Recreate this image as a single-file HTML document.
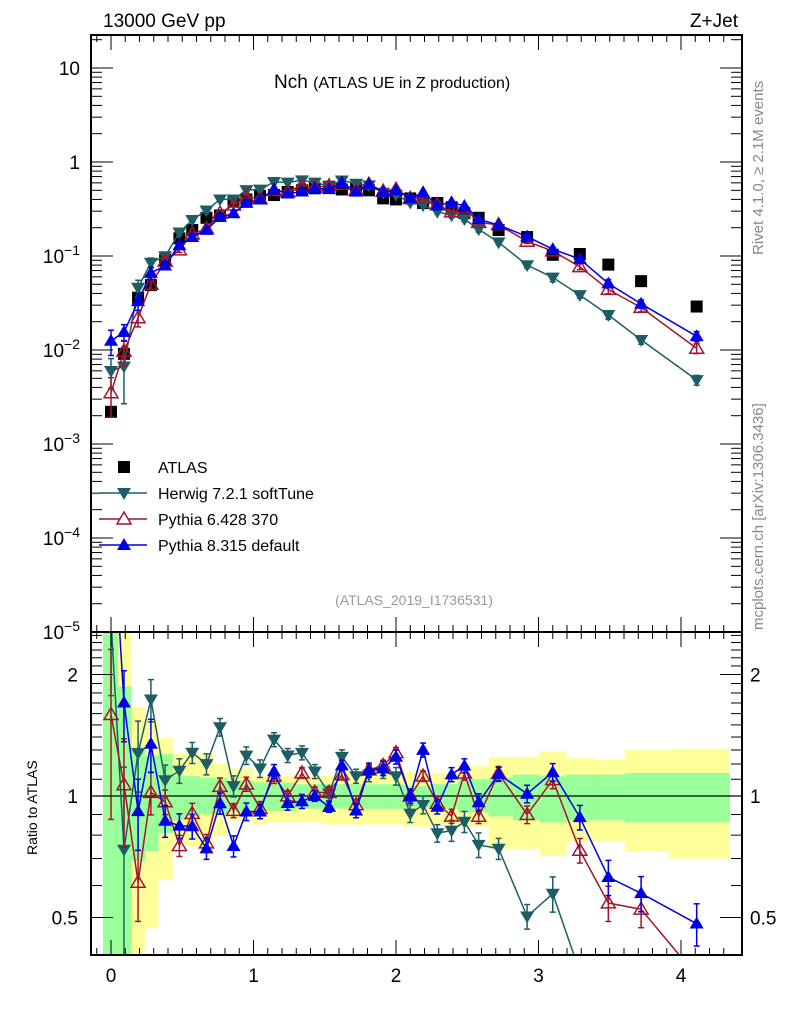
<!DOCTYPE html>
<html><head><meta charset="utf-8"><style>
html,body{margin:0;padding:0;background:#fff;width:786px;height:1024px;overflow:hidden;}
svg{display:block;}
svg text{font-family:"Liberation Sans",sans-serif;}
</style></head><body>
<svg id="chart" width="786" height="1024" viewBox="0 0 786 1024" xmlns="http://www.w3.org/2000/svg" style="position:absolute;left:0;top:0">
<g id="bands"></g>
<g id="grid"></g>
<g id="series"></g>
<g id="axes"></g>
</svg>
<script>
const xs=[0,0.091,0.19,0.28,0.38,0.48,0.57,0.67,0.765,0.86,0.95,1.046,1.144,1.24,1.34,1.43,1.53,1.62,1.72,1.81,1.91,2.00,2.10,2.19,2.29,2.39,2.48,2.58,2.72,2.92,3.10,3.29,3.49,3.72,4.11];
const atlas=[0.0022,0.0091,0.036,0.049,0.091,0.154,0.189,0.255,0.27,0.378,0.40,0.435,0.445,0.48,0.50,0.525,0.546,0.51,0.525,0.50,0.41,0.40,0.41,0.366,0.366,0.33,0.286,0.255,0.189,0.159,0.103,0.105,0.081,0.054,0.029];
const herwig=[0.0060,0.0067,0.046,0.085,0.0996,0.178,0.242,0.306,0.40,0.40,0.504,0.509,0.614,0.605,0.64,0.604,0.554,0.638,0.588,0.565,0.472,0.448,0.371,0.348,0.296,0.271,0.247,0.193,0.140,0.080,0.059,0.0385,0.0236,0.0128,0.0048];
const py6=[0.0035,0.0097,0.022,0.050,0.088,0.116,0.171,0.195,0.285,0.348,0.428,0.405,0.498,0.48,0.57,0.536,0.557,0.576,0.499,0.58,0.488,0.512,0.41,0.41,0.351,0.294,0.326,0.227,0.215,0.143,0.113,0.077,0.044,0.0283,0.0104];
const py8=[0.0125,0.0155,0.033,0.066,0.079,0.130,0.159,0.189,0.259,0.284,0.366,0.398,0.512,0.461,0.485,0.525,0.513,0.607,0.483,0.58,0.48,0.50,0.41,0.476,0.344,0.373,0.34,0.246,0.214,0.161,0.118,0.093,0.051,0.031,0.014];
const herwigErr=[0.35,0.6,0.2,0.12,0.09,0.07,0.06,0.06,0.05,0.06,0.05,0.05,0.04,0.04,0.04,0.04,0.04,0.04,0.04,0.04,0.04,0.05,0.05,0.05,0.05,0.06,0.06,0.07,0.06,0.07,0.1,0.08,0.1,0.1,0.12];
const py6Err=[0.45,0.3,0.2,0.12,0.07,0.06,0.06,0.05,0.05,0.04,0.04,0.04,0.04,0.03,0.03,0.03,0.03,0.03,0.03,0.03,0.03,0.03,0.03,0.03,0.04,0.04,0.04,0.04,0.04,0.05,0.05,0.07,0.1,0.1,0.12];
const py8Err=[0.3,0.2,0.2,0.15,0.09,0.07,0.07,0.06,0.06,0.06,0.05,0.04,0.04,0.04,0.04,0.03,0.03,0.03,0.04,0.04,0.04,0.04,0.04,0.04,0.04,0.04,0.04,0.05,0.04,0.05,0.05,0.07,0.1,0.1,0.12];
const statHi=[3,1.87,1.32,1.26,1.27,1.12,1.12,1.11,1.11,1.09,1.09,1.08,1.08,1.08,1.07,1.07,1.07,1.07,1.07,1.07,1.07,1.07,1.06,1.06,1.07,1.07,1.1,1.1,1.11,1.13,1.12,1.13,1.13,1.14,1.14];
const statLo=[0.3,0.3,0.69,0.73,0.81,0.87,0.89,0.9,0.9,0.91,0.91,0.92,0.92,0.92,0.93,0.93,0.93,0.93,0.93,0.93,0.93,0.93,0.94,0.94,0.93,0.93,0.91,0.91,0.89,0.87,0.86,0.87,0.87,0.86,0.86];
const totHi=[3,3,1.66,1.54,1.39,1.27,1.27,1.27,1.2,1.17,1.17,1.12,1.12,1.12,1.12,1.12,1.12,1.15,1.15,1.15,1.15,1.15,1.15,1.15,1.14,1.14,1.19,1.19,1.25,1.25,1.29,1.24,1.23,1.3,1.31];
const totLo=[0.3,0.3,0.38,0.47,0.62,0.77,0.75,0.73,0.8,0.87,0.87,0.85,0.86,0.86,0.86,0.86,0.85,0.85,0.85,0.85,0.85,0.85,0.84,0.84,0.85,0.85,0.84,0.84,0.74,0.74,0.71,0.77,0.77,0.73,0.7];
const xTicks=[0,1,2,3,4];
const mainTicks=[1,0,-1,-2,-3,-4,-5];
const ratioTicks=[2,1,0.5];

const NS="http://www.w3.org/2000/svg";
const L=91,R=742,T=35,MB=632,RB=955;
const X=u=>111+142.5*u;
const YM=v=>162-94*Math.log10(v);
const YR=r=>Math.min(1015,Math.max(400,796-121.5*Math.log2(r)));
function mk(tag,at,parent){const e=document.createElementNS(NS,tag);for(const k in at)e.setAttribute(k,at[k]);parent.appendChild(e);return e;}
const gB=document.getElementById('bands'),gS=document.getElementById('series'),gA=document.getElementById('axes');

const defs=mk('defs',{},document.getElementById('chart'));
const c1=mk('clipPath',{id:'cm'},defs);mk('rect',{x:L,y:T,width:R-L,height:MB-T},c1);
const c2=mk('clipPath',{id:'cr'},defs);mk('rect',{x:L,y:MB,width:R-L,height:RB-MB},c2);
gB.setAttribute('clip-path','url(#cr)');

const edges=[];edges.push(-0.056);for(let i=0;i<xs.length-1;i++)edges.push((xs[i]+xs[i+1])/2);edges.push(4.34);
for(let i=0;i<xs.length;i++){
  const x0=X(edges[i]),x1=X(edges[i+1]);
  const yt=Math.max(MB,YR(totHi[i])),yb=Math.min(RB,YR(totLo[i]));
  const y=mk('rect',{x:x0,y:yt,width:x1-x0+0.5,height:yb-yt,fill:'#ffff99'},gB);
  
  
}
for(let i=0;i<xs.length;i++){
  const x0=X(edges[i]),x1=X(edges[i+1]);
  const yt=Math.max(MB,YR(statHi[i])),yb=Math.min(RB,YR(statLo[i]));
  const g=mk('rect',{x:x0,y:yt,width:x1-x0+0.5,height:yb-yt,fill:'#99ff99'},gB);
  
  
}
mk('line',{x1:L,x2:R,y1:YR(1),y2:YR(1),stroke:'#000','stroke-width':1.3},gB);

function marker(type,x,y,col,parent,s){
  s=s||7;
  if(type==='sq')return mk('rect',{x:x-6,y:y-6,width:12,height:12,fill:'#000'},parent);
  if(type==='down')return mk('path',{d:`M${x-s},${y-s*0.7}L${x+s},${y-s*0.7}L${x},${y+s}Z`,fill:col},parent);
  if(type==='up')return mk('path',{d:`M${x-s},${y+s*0.7}L${x+s},${y+s*0.7}L${x},${y-s}Z`,fill:col},parent);
  if(type==='open')return mk('path',{d:`M${x-s},${y+s*0.7}L${x+s},${y+s*0.7}L${x},${y-s}Z`,fill:'#fff','fill-opacity':0,stroke:col,'stroke-width':1.5},parent);
}
const series=[
 {name:'herwig',vals:herwig,err:herwigErr,col:'#1d5e66',m:'down'},
 {name:'pythia6',vals:py6,err:py6Err,col:'#a3152e',m:'open'},
 {name:'pythia8',vals:py8,err:py8Err,col:'#0000e6',m:'up'}
];
const gMain=mk('g',{'clip-path':'url(#cm)'},gS);
const gRat=mk('g',{'clip-path':'url(#cr)'},gS);
for(let i=0;i<xs.length;i++){
  const p=marker('sq',X(xs[i]),YM(atlas[i]),'#000',gMain);
  
  
}
for(const s of series){
  let dm='',dr='';
  for(let i=0;i<xs.length;i++){
    const r=s.vals[i]/atlas[i];
    dm+=(i?'L':'M')+X(xs[i]).toFixed(1)+','+YM(s.vals[i]).toFixed(1);
    dr+=(i?'L':'M')+X(xs[i]).toFixed(1)+','+YR(r).toFixed(1);
  }
  const lm=mk('path',{d:dm,fill:'none',stroke:s.col,'stroke-width':1.5},gMain);
  
  
  const lr=mk('path',{d:dr,fill:'none',stroke:s.col,'stroke-width':1.5},gRat);
  
  
  for(let i=0;i<xs.length;i++){
    const x=X(xs[i]),v=s.vals[i],e=s.err[i],r=v/atlas[i];
    for(const [g,f,val] of [[gMain,YM,v],[gRat,YR,r]]){
      const y1=f(val*(1+e)),y2=f(val*Math.max(1-e,0.01));
      mk('line',{x1:x,x2:x,y1:y1,y2:y2,stroke:s.col,'stroke-width':1.5},g);
      mk('line',{x1:x-3,x2:x+3,y1:y1,y2:y1,stroke:s.col,'stroke-width':1.5},g);
      mk('line',{x1:x-3,x2:x+3,y1:y2,y2:y2,stroke:s.col,'stroke-width':1.5},g);
      const m=marker(s.m,x,f(val),s.col,g);
      
      
    }
  }
}

function txt(x,y,str,at,parent){const t=mk('text',Object.assign({x:x,y:y},at||{}),parent||gA);t.textContent=str;return t;}
mk('rect',{x:L,y:T,width:R-L,height:RB-T,fill:'none',stroke:'#000','stroke-width':2},gA);
mk('line',{x1:L,x2:R,y1:MB,y2:MB,stroke:'#000','stroke-width':2},gA);
for(let k=-1;k<=43;k++){
  const u=k/10,x=X(u);if(x<L+1||x>R-1)continue;
  const major=k%10===0,len=major?15:7;
  for(const yb of [T,MB]) mk('line',{x1:x,x2:x,y1:yb,y2:yb+len,stroke:'#000','stroke-width':1},gA);
  for(const yb of [MB,RB]) mk('line',{x1:x,x2:x,y1:yb,y2:yb-len,stroke:'#000','stroke-width':1},gA);
}
for(const t of xTicks){const e=txt(X(t),982,String(t),{'font-size':19,'text-anchor':'middle'});
  
  }
for(const p of mainTicks){
  const y=YM(Math.pow(10,p));
  mk('line',{x1:L,x2:L+22,y1:y,y2:y,stroke:'#000'},gA);
  mk('line',{x1:R,x2:R-22,y1:y,y2:y,stroke:'#000'},gA);
  if(p>-5)for(let m=2;m<=9;m++){const ym=YM(m*Math.pow(10,p-1));if(ym>MB)continue;
    mk('line',{x1:L,x2:L+11,y1:ym,y2:ym,stroke:'#000'},gA);mk('line',{x1:R,x2:R-11,y1:ym,y2:ym,stroke:'#000'},gA);}
  let lab;
  if(p===1)lab=txt(80,y+7,'10',{'font-size':19,'text-anchor':'end'});
  else if(p===0)lab=txt(80,y+7,'1',{'font-size':19,'text-anchor':'end'});
  else{lab=txt(80,y+7,'',{'font-size':19,'text-anchor':'end'});
    const a=mk('tspan',{},lab);a.textContent='10';const b=mk('tspan',{dy:-8,'font-size':14},lab);b.textContent='\u2212'+(-p);}
  
  
}
for(let m=2;m<=9;m++){const ym=YM(m*10);if(ym<T)continue;mk('line',{x1:L,x2:L+11,y1:ym,y2:ym,stroke:'#000'},gA);mk('line',{x1:R,x2:R-11,y1:ym,y2:ym,stroke:'#000'},gA);}
for(const r of [0.4,0.5,0.6,0.7,0.8,0.9,1,1.1,1.2,1.3,1.4,1.5,1.6,1.7,1.8,1.9,2,2.1,2.2,2.3,2.4,2.5]){
  const y=YR(r);if(y<MB||y>RB)continue;const major=ratioTicks.includes(r),len=major?22:11;
  mk('line',{x1:L,x2:L+len,y1:y,y2:y,stroke:'#000'},gA);mk('line',{x1:R,x2:R-len,y1:y,y2:y,stroke:'#000'},gA);
}
for(const r of ratioTicks){
  const a=txt(78,YR(r)+7,String(r),{'font-size':19,'text-anchor':'end'});
  
  
  const b=txt(750,YR(r)+7,String(r),{'font-size':19});
  
  
}
</script>
<svg width="786" height="1024" style="position:absolute;left:0;top:0" xmlns="http://www.w3.org/2000/svg">
<text x="103" y="27" font-size="19">13000 GeV pp</text>
<text x="738" y="27" font-size="19" text-anchor="end">Z+Jet</text>
<text x="274" y="88" font-size="19">Nch <tspan font-size="16">(ATLAS UE in Z production)</tspan></text>
<text x="414" y="605" font-size="14" fill="#999" text-anchor="middle">(ATLAS_2019_I1736531)</text>
<text transform="translate(763,255) rotate(-90)" font-size="15" fill="#888">Rivet 4.1.0, ≥ 2.1M events</text>
<text transform="translate(763,630) rotate(-90)" font-size="15" fill="#888">mcplots.cern.ch [arXiv:1306.3436]</text>
<text transform="translate(37,855) rotate(-90)" font-size="14">Ratio to ATLAS</text>
<g>
<rect x="118" y="461" width="12" height="12" fill="#000"/>
<text x="158" y="473" font-size="16">ATLAS</text>
<line x1="99" x2="147" y1="493" y2="493" stroke="#1d5e66" stroke-width="1.5"/>
<path d="M117,488L131,488L124,500Z" fill="#1d5e66"/>
<text x="158" y="499" font-size="16">Herwig 7.2.1 softTune</text>
<line x1="99" x2="147" y1="519" y2="519" stroke="#a3152e" stroke-width="1.5"/>
<path d="M117,524L131,524L124,512Z" fill="#fff" stroke="#a3152e" stroke-width="1.5"/>
<text x="158" y="525" font-size="16">Pythia 6.428 370</text>
<line x1="99" x2="147" y1="545" y2="545" stroke="#0000e6" stroke-width="1.5"/>
<path d="M117,550L131,550L124,538Z" fill="#0000e6"/>
<text x="158" y="551" font-size="16">Pythia 8.315 default</text>
</g>
</svg>
</body></html>
